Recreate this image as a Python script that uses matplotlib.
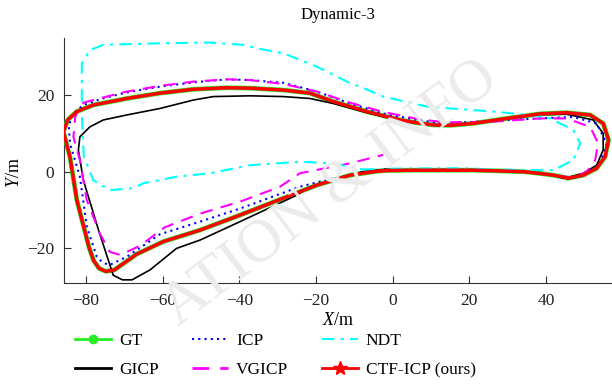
import numpy as np
import matplotlib.pyplot as plt
from matplotlib.lines import Line2D

plt.rcParams['font.family'] = ['Liberation Serif', 'DejaVu Serif']
plt.rcParams['mathtext.fontset'] = 'custom'
plt.rcParams['mathtext.it'] = 'Liberation Serif:italic'
plt.rcParams['mathtext.rm'] = 'Liberation Serif'

# trajectories (metres)
gt_x = [-2.5, 5, 12.3, 21, 28, 34.1, 38, 41.9, 45.8, 49.7, 53.2, 55.4, 56.3, 54.9, 51.5, 45.4,
        38.4, 29.7, 21, 15, 10.6, 6, 1.9, -6.8, -15.5, -21.6, -28.5, -37.2, -43.3, -52, -60.7,
        -69.4, -78.1, -82.4, -84.8, -85.9, -84.2, -82.4, -79.2, -78, -76.6, -74.8, -72.6,
        -66.8, -59.8, -50.2, -39.8, -24.2, -19.8, -11.1, -5, -2.5]
gt_y = [0.3, 0.4, 0.4, 0.4, 0.2, 0, -0.4, -0.9, -1.7, -0.9, 0.9, 3.9, 8.3, 12.6, 14.8, 15.4,
        15.1, 13.9, 12.6, 12.1, 12.2, 12.8, 13.5, 15.7, 18.3, 20.5, 21.3, 21.8, 21.9, 21.5, 20.5,
        19.1, 17.4, 15.7, 13.5, 10.4, 3.9, -7.4, -19.8, -23.2, -25.2, -26.0, -25.6,
        -21.5, -18.2, -15.2, -11.3, -5.2, -3.5, -0.9, 0, 0.3]

ctf_x = gt_x
ctf_y = gt_y

icp_x = [0, 12.3, 21, 34.1, 41.9, 45.4, 49.7, 54.1, 55.8, 53.2, 47.1, 38.4, 29.7, 21, 13.2, 6.3,
         -2.5, -11.1, -19.8, -28.5, -37.2, -43.3, -52, -60.7, -69.4, -76, -80.7, -83.3, -84.5,
         -84.2, -81.6, -79.8, -77.2, -75.5, -73.8, -69.4, -60.7, -50.2, -39.8, -24.2, -15.5,
         -8, 0]
icp_y = [0.3, 0.5, 0.5, 0, -0.9, -2, -0.9, 2.2, 7.4, 12.6, 14.3, 13.9, 13.5, 13, 12.6, 13.5,
         15.2, 17.8, 20.9, 23.2, 23.9, 24.1, 23.3, 22.2, 20.7, 19, 17.4, 15.2, 12,
         7.4, -1.3, -14.3, -22.2, -23.8, -24.3, -22.2, -16.3, -13, -9.6, -3.9, -1.7,
         -0.3, 0.3]

gicp_x = [-2, 5, 12.3, 21, 34.1, 41.9, 45.8, 49.7, 53.2, 54.9, 54.9, 52.3, 45.4, 38.4, 29.7, 21,
          15, 10.6, 1.9, -6.8, -15.5, -21.6, -28.5, -37.2, -46.8, -52, -60.7, -69.4, -75.5,
          -79, -81.6, -82, -80.7, -76.5, -72.9, -70.5, -68, -63.3, -56.4, -50.2, -39.8, -25,
          -22.4, -15, -8, -2]
gicp_y = [0.6, 0.4, 0.4, 0.4, 0, -0.9, -1.5, -0.4, 1.7, 5.7, 10, 13.5, 15, 14.9, 13.8, 12.5,
          12, 12.1, 13.3, 15.4, 17.8, 19.1, 19.6, 19.8, 19.6, 18.7, 16.5, 14.8, 13.5,
          11.7, 9.1, 5.7, -2.2, -16, -27, -28.2, -28.2, -25.6, -20, -17.8, -13, -6.1,
          -4.3, -2, 0, 0.6]

vgicp_x = [0, 12.3, 34.1, 41.9, 47.1, 50.6, 52.8, 53.6, 51.5, 45.4, 38.4, 25.4, 13.2, 6.3,
           -2.5, -11.1, -19.8, -28.5, -37.2, -43.3, -52, -60.7, -69.4, -77, -80.7, -82.8,
           -83.3, -81.6, -79.8, -76.4, -73.8, -71.1, -65.9, -59.5, -50.2, -39.8, -29.4,
           -24.2, -11.1, -2.5]
vgicp_y = [0.3, 0.5, 0, -0.9, -1.5, 0, 3, 7.4, 11.7, 13.9, 13.9, 13, 12.9, 13.8,
           15.6, 18, 20.9, 22.9, 23.9, 24.1, 23.5, 22.4, 20.9, 19, 18, 14.5,
           9.1, 3, -7.4, -16.1, -20.9, -21.7, -19.3, -14.5, -10.9, -7.8, -3.9,
           -0.4, 2.2, 4.4]

ndt_x = [-8, 0, 17.6, 26.2, 38.4, 41.9, 44.5, 47.1, 48.9, 47.1, 40.2, 26.2, 15, 8.9, -2.5,
         -8.5, -11.1, -19.8, -28.5, -35.5, -39, -47.7, -60.7, -75.5, -79, -81.1, -81.1,
         -80.6, -78.1, -73.8, -67.7, -65, -56.4, -47.7, -37.2, -24.2, -15.5, -8]
ndt_y = [0.6, 0.8, 0.9, 0.6, 0.4, 0.4, 1.7, 3, 7.4, 10.9, 14.3, 15.7, 16.5, 17, 19.6,
         22.2, 23.1, 27.4, 30.9, 32.2, 33.1, 33.7, 33.5, 33.1, 31.7, 28.3, 15.2,
         4, -2.2, -4.8, -4.3, -3, -1.3, -0.4, 1.7, 2.6, 2.2, 0.6]

fig = plt.figure(figsize=(6.12, 3.87), dpi=100)
ax = fig.add_axes([64 / 612, 1 - 283.3 / 387, 1 - 64 / 612, 245 / 387])

# watermark
fig.text(0.54, 0.5, 'ATION & INFO', fontsize=44, color='#ebebeb', rotation=37,
         ha='center', va='center', zorder=0)
ax.patch.set_alpha(0)

ax.plot(gt_x, gt_y, color='#22ee22', lw=3.4, zorder=3, solid_joinstyle='round')
ax.plot(gicp_x, gicp_y, color='black', lw=1.2, zorder=4)
ax.plot(icp_x, icp_y, color='blue', lw=1.5, ls=(0, (1, 2)), zorder=4)
ax.plot(vgicp_x, vgicp_y, color='magenta', lw=1.5, ls=(0, (6, 4)), zorder=4)
ax.plot(ndt_x, ndt_y, color='cyan', lw=1.5, ls=(0, (6, 3, 1.5, 3)), zorder=4)
ax.plot(ctf_x, ctf_y, color='red', lw=2.5, zorder=5, solid_joinstyle='round')

ax.set_xlim(-85.75, 57.2)
ax.set_ylim(-29.1, 34.8)
ax.set_xticks([-80, -60, -40, -20, 0, 20, 40])
ax.set_yticks([-20, 0, 20])
ax.spines['top'].set_visible(False)
ax.spines['right'].set_visible(False)
for s in ['left', 'bottom']:
    ax.spines[s].set_color('#333333')
ax.tick_params(direction='in', length=5, labelsize=12.5, pad=7, colors='#333333')
ax.tick_params(labelcolor='#222222')

ax.set_title('Dynamic-3', fontsize=12, pad=14)
ax.set_xlabel('$X$/m', fontsize=13, labelpad=2)
ax.set_ylabel('$Y$/m', fontsize=13)
ax.yaxis.set_label_coords(-0.075, 0.45)

handles = [
    Line2D([], [], color='#22ee22', lw=2, marker='o', ms=6),
    Line2D([], [], color='black', lw=2),
    Line2D([], [], color='blue', lw=1.5, ls=(0, (1, 2))),
    Line2D([], [], color='magenta', lw=2, ls=(0, (6, 4))),
    Line2D([], [], color='cyan', lw=1.5, ls=(0, (6, 3, 1.5, 3))),
    Line2D([], [], color='red', lw=2, marker='*', ms=10),
]
labels = ['GT', 'GICP', 'ICP', 'VGICP', 'NDT', 'CTF-ICP (ours)']
fig.legend(handles, labels, ncol=3, loc='upper left', bbox_to_anchor=(75 / 612, 0.14),
           frameon=False, fontsize=12.5, handlelength=2.1, handletextpad=0.45,
           columnspacing=1.9, labelspacing=0.75, borderpad=0, borderaxespad=0)

fig.savefig('out.png', dpi=100)
